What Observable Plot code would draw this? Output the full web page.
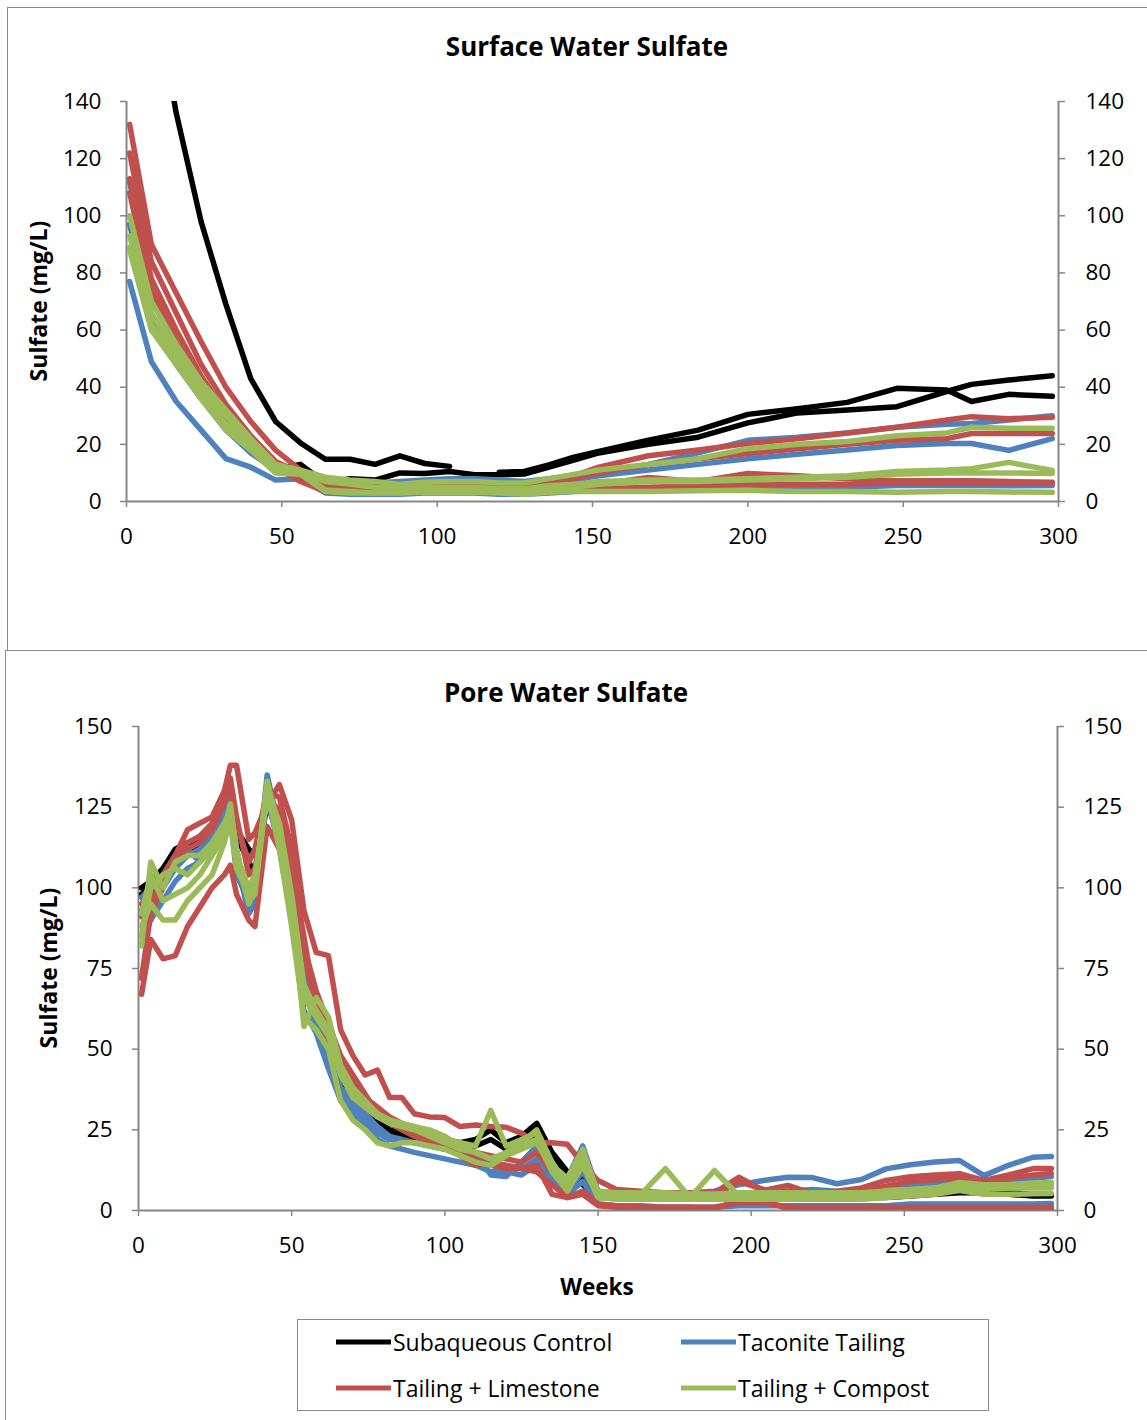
<!DOCTYPE html>
<html><head><meta charset="utf-8">
<script src="https://cdn.jsdelivr.net/npm/d3@7"></script>
<script src="https://cdn.jsdelivr.net/npm/@observablehq/plot@0.6"></script>
<style>
body{margin:0;background:#fff;font-family:"Open Sans",sans-serif;}
#page{position:relative;width:1147px;height:1420px;overflow:hidden;background:#fff;}
.box{position:absolute;border:1.5px solid #8a8a8a;box-sizing:border-box;}
.title{position:absolute;font-weight:bold;font-size:26px;white-space:nowrap;transform:translate(-50%,-50%);color:#000;}
.xtitle{position:absolute;font-weight:bold;font-size:22.5px;white-space:nowrap;transform:translate(-50%,-50%);color:#000;}
.ytitle{position:absolute;font-weight:bold;font-size:23px;white-space:nowrap;transform:translate(-50%,-50%) rotate(-90deg);color:#000;}
.chart{position:absolute;left:0;}
.leg{position:absolute;font-size:23px;white-space:nowrap;transform:translateY(-50%);color:#000;}
.sw{position:absolute;height:5px;transform:translateY(-50%);}
</style></head>
<body><div id="page">
<div class="box" style="left:7px;top:7px;width:1160px;height:644px;"></div>
<div class="box" style="left:5px;top:650px;width:1160px;height:800px;"></div>
<div class="title" style="left:587px;top:46px;">Surface Water Sulfate</div>
<div class="title" style="left:566px;top:692px;">Pore Water Sulfate</div>
<div class="ytitle" style="left:38px;top:301px;">Sulfate (mg/L)</div>
<div class="ytitle" style="left:48px;top:968px;">Sulfate (mg/L)</div>
<div class="xtitle" style="left:597px;top:1286px;">Weeks</div>
<div id="top" class="chart" style="top:0px;"></div>
<div id="bot" class="chart" style="top:650px;"></div>
<div class="box" style="left:297px;top:1319px;width:692px;height:92px;"></div>
<div id="legend"></div>
</div>
<script>
// ---------- categories ----------
const groups = ["Subaqueous Control","Taconite Tailing","Tailing + Limestone","Tailing + Compost"];
const colors = ["#000000","#4F81BD","#C0504D","#9BBB59"];

// ---------- Surface water (top) ----------
const topWeeks = [1,8,16,24,32,40,48,56,64,72,80,88,96,104,112,120,128,136,144,152,168,184,200,216,232,248,264,272,284,298];
const topYTicks = [0,20,40,60,80,100,120,140];
const topXTicks = [0,50,100,150,200,250,300];

const swCtrl1 = [250,185,136,98,69,43,28,20.5,14.8,14.8,13,16,13.3,12.3,null,10.2,10.5,12.8,15.5,17.5,21.5,25,30.5,32.5,34.7,39.6,39,35,37.5,36.8];
const swCtrl2 = [null,null,null,null,null,null,11.5,13,6.5,8,7.5,10,9.8,10.5,9.4,9.4,9.6,12,14.5,17,20,22.5,27.5,31,32,33.2,38.5,41,42.5,44];
const swTac1 = [112,72,54,40,28,19,12,10,6,6,6.5,7,7.5,8,8,7.5,7,8,9,10,13,17,21.4,22.5,24,26,27,27.3,28.5,30];
const swTac2 = [97,64,48,36,25,17,11,9,5,5,5.5,6,7,7,7,6.5,6,6.5,7.5,9,11,13,15,16.5,18,19.6,20.3,20.3,17.9,22];
const swTac3 = [77,49,35,25,15,12,7.5,8,3,2.5,2.5,2.5,3,3,3,2.5,2.5,3,3.5,4,4,4.5,5.6,5,5,5.6,5.6,5.6,5.5,5.6];
const swLime1 = [132,90,73,56,40,28,18,11,6,5,5,5,5.5,5.5,5.5,5.5,5.5,7,9,12,16,18,20.3,22,24,26,28.5,29.7,29,29.5];
const swLime2 = [122,84,66,48,34,23,14,10,5,4.5,4.5,4.5,5,5,5,4.5,4.5,6,8,10,13,15,16.8,18.5,20,21.4,22,23.8,23.8,23.8];
const swLime3 = [113,78,60,44,31,21,13,8,4,4,4,4.5,5,5,5,4,4,5,5.5,6,8.4,7,9.8,9,8,7.3,7.3,7.3,7,6.7];
const swLime4 = [108,74,56,42,30,20,12,7,3.5,3,3,3,3.5,3.5,3.5,3,3,3.5,4,4.5,5,5.5,6,6,6,6.5,6.5,6.5,6.5,6.5];
const swComp1 = [100,70,55,42,32,22,13,11,8.5,7.5,7,6,6.7,7,7,6.5,6.5,8,9.5,11,13,15,18.5,20,21,23,24,26,25.6,25.6];
const swComp2 = [93,66,52,40,30,20,12,10,7,6,5,4.5,5,5,5,4.5,4.5,5.5,6,7,7.5,7.5,8,8.5,9,10.5,11,11.5,13.7,10.9];
const swComp3 = [89,62,50,38,27,19,11,10,4,3.5,3,3,4,4,4,3.5,3.5,4.5,5,6,7,7,7.5,8,8.5,9.5,10,10,10,9.8];
const swComp4 = [88,60,48,36,25,18,10,9.5,3.5,3,3,3,3.2,3.2,3.2,3,2.5,3.2,3.5,3.5,3.5,3.8,3.9,3.5,3.5,3.2,3.5,3.5,3.3,3.2];

// ---------- Pore water (bottom) ----------
const botWeeks = [1,4,8,12,16,20,24,28,30,32,36,38,42,46,50,54,58,62,66,70,74,78,82,86,90,95,100,105,110,115,120,125,130,135,140,145,150,156,164,172,180,188,196,204,212,220,228,236,244,252,260,268,276,284,292,298];
const botYTicks = [0,25,50,75,100,125,150];
const botXTicks = [0,50,100,150,200,250,300];

const pwCtrl1 = [100,102,106,112,114,114,118,126,128,118,112,110,127,118,98,72,62,52,42,36,32,28,25,24,23,22,22,21,22,25,21,23,27,18,12,10,5,5,5,5,4.5,4.5,4.5,4.5,4.5,4.5,4.5,4.5,5,5.5,6,6,6,5.5,5,5];
const pwCtrl2 = [98,100,104,110,112,113,116,124,126,116,108,104,126,116,96,70,60,50,40,34,30,27,24,23,22,21,21,20,20,22,19,21,24,16,10,8,4,4,4,4,4,4,4,4,4,4,4,4,4,4.5,5,5.5,5.5,5,4.5,4.5];
const pwTac1 = [97,100,104,110,112,108,114,122,130,112,94,98,135,118,100,72,62,50,38,34,30,26,23,22,21,21,20,19,18,11,10.5,15,20,14,10,20,6,5.5,5.5,5.5,5.5,6,8,9.3,10.3,10.2,8.3,9.6,12.9,14.2,15,15.5,10.8,14,16.5,16.7];
const pwTac2 = [93,96,100,106,110,112,116,124,126,108,92,95,130,115,95,68,58,46,36,32,28,24,22,21.5,21,20,19,18,17,15,14,13,16,10,6,12,5,4.5,4.5,4.5,4.5,4.5,5,5.5,6,6.5,6,6,7,8,8.5,9,8.5,9.5,10,10.5];
const pwTac3 = [85,90,96,102,106,108,112,118,122,104,96,100,128,112,90,62,55,44,34,30,26,22,20,19,18,17,16,15,14,12,12,11,14,8,5,9,2,1.5,1.5,1,1,1,1.5,1.5,1.5,1.5,1.5,1.5,1.5,2,2,2,2,2,2,2.2];
const pwLime1 = [72,92,100,110,118,120,122,130,138,138,115,117,126,132,121,93,80,79,56,48,42,43.5,35,35,30,29,28.8,26,26.5,26,25.8,24,21,21,20.5,14.5,9.3,6.5,6,5.5,5.5,5.5,10.3,6.2,7.8,5.2,6,7,9.3,10.5,11,11.4,9.3,11,13,13];
const pwLime2 = [67,84,78,79,88,94,100,104,107,98,90,88,119,112,106,85,62,54,46,40,35,32,29,27,25,22,20,17,14,15,14,13,14,5,4,6,2,1.5,1,1,1,0.5,3.1,3.1,0.5,0.5,0.5,0.5,0.5,0.5,0.5,0.5,0.5,0.5,0.5,0.3];
const pwLime3 = [91,96,102,108,112,114,118,126,132,120,108,112,130,128,112,82,68,58,48,42,36,30,28,26,24,22,21,19,18,17,16,15,18,12,9,17,5,5,5,4.5,4.5,4.5,9,6.5,6,5.5,5.5,6,7.5,9,9.5,10,8.5,10,11,11.5];
const pwLime4 = [95,98,104,110,114,116,120,128,134,122,104,106,128,124,108,78,64,52,44,38,32,29,27,25,23,21,20,18,16,14,13,13,12,8,4,5,1.5,1,1,1,1,1,2.5,2.5,1,1,1,1,1,1,1,1,1,1,1,1];
const pwComp1 = [82,108,100,108,110,110,114,120,124,112,95,100,133,118,95,57,66,60,45,38,34,30,28,27,26,24,22,21,20,31,20,22,24,14,10,19,5,5,5,13,4,12.4,4.5,4.5,4.5,4.5,4.5,4.5,6.2,6.5,7,8.7,8,8,8.5,8.7];
const pwComp2 = [88,95,90,90,96,100,104,114,122,108,96,98,130,112,88,60,56,50,34,28,25,21,20,21,21,20,19,17,15,14,17,20,22,12,6,14,4,3.5,3.5,3.5,3.5,3.5,3.5,3.5,3.5,3.5,3.5,3.5,4,4.5,5,6.2,5,5,5.2,5.3];
const pwComp3 = [85,100,104,106,104,108,112,118,126,110,100,104,128,116,92,66,60,54,42,35,32,29,27,26,25,23,21,19,18,16,18,21,25,15,8,18,5.5,5,5,5,5,5,5.5,5.5,5.5,5.5,5.5,5.5,6,6.5,7,7.5,6.5,7,7,7];
const pwComp4 = [92,104,96,98,100,104,110,116,120,106,98,102,131,120,98,70,62,56,44,38,33,30,28,27,26,25,23,20,18,16,17,19,21,13,9,16,6,5.5,5.5,5.5,5,5,5,5,5,5,5,5,5.5,6,6.5,7.5,7,7,7.5,8];

// ---------- build tables ----------
function rows(weeks, list){
  const out=[];
  list.forEach(([name, group, vals])=>{
    vals.forEach((v,i)=>out.push({week:weeks[i], value:v, series:name, group}));
  });
  return out;
}
const topRows = rows(topWeeks, [
  ["c1",groups[0],swCtrl1],["c2",groups[0],swCtrl2],
  ["t1",groups[1],swTac1],["t2",groups[1],swTac2],["t3",groups[1],swTac3],
  ["l1",groups[2],swLime1],["l2",groups[2],swLime2],["l3",groups[2],swLime3],["l4",groups[2],swLime4],
  ["m1",groups[3],swComp1],["m2",groups[3],swComp2],["m3",groups[3],swComp3],["m4",groups[3],swComp4]
]);
const botRows = rows(botWeeks, [
  ["c1",groups[0],pwCtrl1],["c2",groups[0],pwCtrl2],
  ["t1",groups[1],pwTac1],["t2",groups[1],pwTac2],["t3",groups[1],pwTac3],
  ["l1",groups[2],pwLime1],["l2",groups[2],pwLime2],["l3",groups[2],pwLime3],["l4",groups[2],pwLime4],
  ["m1",groups[3],pwComp1],["m2",groups[3],pwComp2],["m3",groups[3],pwComp3],["m4",groups[3],pwComp4]
]);

const axisGray = "#868686";
function chart(data, {height, mL, mR, mT, mB, yDomain, yTicks, xTicks, padL, padR, padX}){
  return Plot.plot({
    width:1147, height,
    marginLeft:mL, marginRight:mR, marginTop:mT, marginBottom:mB,
    x:{domain:[0,300]}, y:{domain:yDomain},
    color:{domain:groups, range:colors},
    style:{fontFamily:"'Open Sans', sans-serif", fontSize:"22px", background:"transparent", overflow:"visible", color:"#000"},
    marks:[
      Plot.axisY({anchor:"left", ticks:yTicks, tickSize:6, tickPadding:padL, stroke:axisGray, strokeWidth:1.5, fill:"#000", fontSize:22.5, label:null, tickFormat:d=>String(d)}),
      Plot.axisY({anchor:"right", ticks:yTicks, tickSize:6, tickPadding:padR, stroke:axisGray, strokeWidth:1.5, fill:"#000", fontSize:22.5, label:null, tickFormat:d=>String(d)}),
      Plot.axisX({anchor:"bottom", ticks:xTicks, tickSize:6, tickPadding:padX, stroke:axisGray, strokeWidth:1.5, fill:"#000", fontSize:22.5, label:null, tickFormat:d=>String(d)}),
      Plot.ruleX([0,300],{stroke:axisGray, strokeWidth:2}),
      Plot.ruleY([0],{stroke:axisGray, strokeWidth:2}),
      Plot.line(data,{x:"week", y:"value", z:"series", stroke:"group", strokeWidth:5.5, clip:true, strokeLinejoin:"round", strokeLinecap:"round"})
    ]
  });
}
document.getElementById("top").appendChild(chart(topRows,{height:650, mL:126, mR:89, mT:101, mB:149, yDomain:[0,140], yTicks:topYTicks, xTicks:topXTicks, padL:19, padR:21, padX:21}));
document.getElementById("bot").appendChild(chart(botRows,{height:620, mL:138, mR:90, mT:76, mB:60, yDomain:[0,150], yTicks:botYTicks, xTicks:botXTicks, padL:20, padR:20, padX:21}));

// ---------- legend ----------
const legPos = [[336,1342],[681,1342],[336,1388],[681,1388]];
const leg = document.getElementById("legend");
groups.forEach((g,i)=>{
  const [x,y]=legPos[i];
  const s=document.createElement("div"); s.className="sw";
  s.style.cssText=`left:${x}px;top:${y}px;width:55px;background:${colors[i]};`;
  leg.appendChild(s);
  const t=document.createElement("div"); t.className="leg";
  t.style.cssText=`left:${x+57}px;top:${y}px;`;
  t.textContent=g;
  leg.appendChild(t);
});
</script>
</body></html>
